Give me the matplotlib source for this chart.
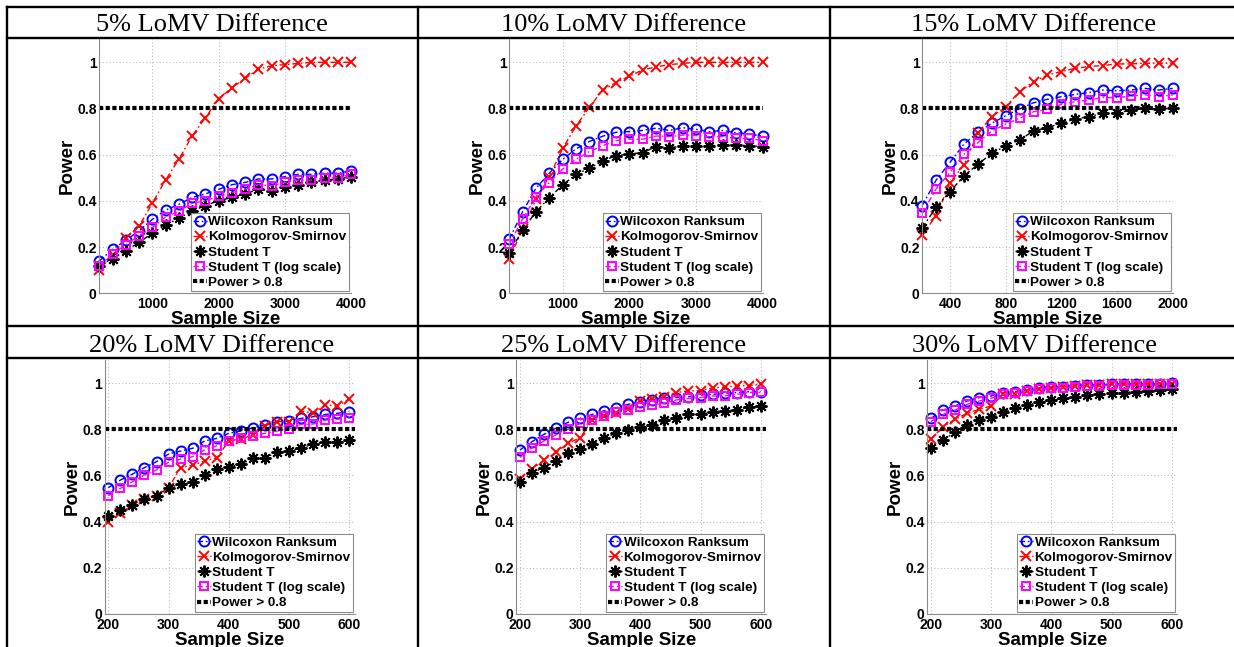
import matplotlib
matplotlib.use("Agg")
import matplotlib.pyplot as plt
from matplotlib.lines import Line2D

# ---------------- data ----------------
titles = ["5% LoMV Difference", "10% LoMV Difference", "15% LoMV Difference",
          "20% LoMV Difference", "25% LoMV Difference", "30% LoMV Difference"]
series_names = ["Wilcoxon Ranksum", "Kolmogorov-Smirnov", "Student T",
                "Student T (log scale)", "Power > 0.8"]
power_threshold = 0.8

x_4000 = list(range(200, 4001, 200))
x_2000 = list(range(200, 2001, 100))
x_600 = list(range(200, 601, 20))

# 5%
wil_05 = [0.14, 0.19, 0.23, 0.27, 0.32, 0.36, 0.385, 0.415, 0.43, 0.45,
          0.47, 0.48, 0.495, 0.495, 0.505, 0.515, 0.515, 0.52, 0.52, 0.53]
ks_05 = [0.10, 0.166, 0.24, 0.29, 0.39, 0.49, 0.58, 0.68, 0.76, 0.84,
         0.89, 0.93, 0.97, 0.985, 0.99, 0.995, 1.0, 1.0, 1.0, 1.0]
t_05 = [0.12, 0.15, 0.185, 0.22, 0.26, 0.295, 0.325, 0.355, 0.38, 0.40,
        0.415, 0.43, 0.45, 0.445, 0.46, 0.47, 0.48, 0.49, 0.495, 0.505]
logt_05 = [0.12, 0.17, 0.21, 0.25, 0.285, 0.33, 0.355, 0.39, 0.40, 0.42,
           0.435, 0.45, 0.47, 0.465, 0.48, 0.49, 0.49, 0.50, 0.50, 0.515]

# 10%
wil_10 = [0.234, 0.353, 0.455, 0.52, 0.58, 0.625, 0.657, 0.68, 0.697, 0.70,
          0.705, 0.715, 0.705, 0.717, 0.71, 0.70, 0.705, 0.695, 0.69, 0.68]
ks_10 = [0.15, 0.277, 0.407, 0.505, 0.627, 0.724, 0.805, 0.88, 0.912, 0.94,
         0.967, 0.98, 0.99, 0.995, 1.0, 1.0, 1.0, 1.0, 1.0, 1.0]
t_10 = [0.176, 0.274, 0.353, 0.414, 0.469, 0.515, 0.541, 0.573, 0.596, 0.603,
        0.609, 0.635, 0.63, 0.638, 0.639, 0.639, 0.642, 0.642, 0.639, 0.635]
logt_10 = [0.212, 0.322, 0.418, 0.479, 0.538, 0.58, 0.613, 0.639, 0.661, 0.667,
           0.667, 0.681, 0.678, 0.685, 0.683, 0.678, 0.678, 0.671, 0.671, 0.661]

# 15%
wil_15 = [0.38, 0.49, 0.567, 0.646, 0.697, 0.736, 0.769, 0.798, 0.825, 0.84,
          0.851, 0.861, 0.869, 0.88, 0.877, 0.88, 0.887, 0.88, 0.887]
ks_15 = [0.253, 0.335, 0.479, 0.556, 0.693, 0.765, 0.808, 0.873, 0.916, 0.945,
         0.96, 0.974, 0.982, 0.986, 0.993, 0.993, 0.996, 0.996, 0.996]
t_15 = [0.284, 0.372, 0.44, 0.508, 0.558, 0.606, 0.638, 0.664, 0.703, 0.717,
        0.736, 0.755, 0.765, 0.779, 0.779, 0.794, 0.801, 0.798, 0.801]
logt_15 = [0.346, 0.452, 0.524, 0.602, 0.652, 0.703, 0.732, 0.758, 0.786, 0.797,
           0.818, 0.83, 0.837, 0.847, 0.847, 0.854, 0.859, 0.851, 0.859]

# 20%
wil_20 = [0.547, 0.58, 0.606, 0.634, 0.66, 0.693, 0.706, 0.718, 0.75, 0.761, 0.783,
          0.793, 0.807, 0.819, 0.834, 0.836, 0.848, 0.855, 0.865, 0.87, 0.877]
ks_20 = [0.40, 0.436, 0.472, 0.50, 0.512, 0.547, 0.634, 0.645, 0.663, 0.677, 0.75,
         0.758, 0.776, 0.816, 0.834, 0.834, 0.88, 0.87, 0.906, 0.902, 0.932]
t_20 = [0.425, 0.45, 0.472, 0.50, 0.512, 0.547, 0.561, 0.57, 0.602, 0.627, 0.638,
        0.648, 0.674, 0.677, 0.70, 0.706, 0.72, 0.735, 0.747, 0.744, 0.754]
logt_20 = [0.512, 0.544, 0.573, 0.602, 0.624, 0.657, 0.671, 0.682, 0.711, 0.729, 0.75,
           0.761, 0.773, 0.783, 0.793, 0.802, 0.822, 0.823, 0.841, 0.844, 0.851]

# 25%
wil_25 = [0.711, 0.747, 0.779, 0.805, 0.831, 0.848, 0.865, 0.881, 0.894, 0.909, 0.92,
          0.928, 0.938, 0.938, 0.942, 0.949, 0.952, 0.957, 0.96, 0.964, 0.964]
ks_25 = [0.585, 0.628, 0.667, 0.70, 0.74, 0.764, 0.841, 0.86, 0.87, 0.888, 0.923,
         0.932, 0.942, 0.96, 0.967, 0.968, 0.981, 0.983, 0.99, 0.99, 0.996]
t_25 = [0.573, 0.612, 0.634, 0.663, 0.696, 0.715, 0.735, 0.764, 0.783, 0.797, 0.812,
        0.819, 0.841, 0.851, 0.865, 0.865, 0.877, 0.881, 0.884, 0.899, 0.903]
logt_25 = [0.679, 0.721, 0.75, 0.776, 0.80, 0.826, 0.841, 0.86, 0.874, 0.884, 0.899,
           0.906, 0.913, 0.928, 0.935, 0.938, 0.945, 0.946, 0.952, 0.96, 0.961]

# 30%
wil_30 = [0.848, 0.884, 0.902, 0.923, 0.938, 0.945, 0.96, 0.964, 0.971, 0.981, 0.986,
          0.986, 0.99, 0.993, 0.993, 0.996, 0.997, 0.997, 0.997, 0.998, 1.0]
ks_30 = [0.758, 0.812, 0.844, 0.87, 0.887, 0.902, 0.952, 0.952, 0.968, 0.975, 0.981,
         0.986, 0.988, 0.993, 0.993, 0.996, 0.996, 0.997, 0.997, 0.997, 0.998]
t_30 = [0.721, 0.754, 0.787, 0.819, 0.841, 0.855, 0.874, 0.891, 0.906, 0.917, 0.928,
        0.935, 0.942, 0.949, 0.952, 0.957, 0.96, 0.964, 0.967, 0.971, 0.974]
logt_30 = [0.834, 0.865, 0.884, 0.909, 0.923, 0.935, 0.952, 0.957, 0.968, 0.975, 0.978,
           0.981, 0.986, 0.988, 0.99, 0.993, 0.993, 0.993, 0.993, 0.996, 0.996]

xticks_4000 = [1000, 2000, 3000, 4000]
xticks_2000 = [400, 800, 1200, 1600, 2000]
xticks_600 = [200, 300, 400, 500, 600]
yticks = [0, 0.2, 0.4, 0.6, 0.8, 1.0]
ytick_labels = ["0", "0.2", "0.4", "0.6", "0.8", "1"]

panels = [
    (x_4000, wil_05, ks_05, t_05, logt_05, xticks_4000, (200, 4000)),
    (x_4000, wil_10, ks_10, t_10, logt_10, xticks_4000, (200, 4000)),
    (x_2000, wil_15, ks_15, t_15, logt_15, xticks_2000, (200, 2000)),
    (x_600, wil_20, ks_20, t_20, logt_20, xticks_600, (194, 609)),
    (x_600, wil_25, ks_25, t_25, logt_25, xticks_600, (194, 609)),
    (x_600, wil_30, ks_30, t_30, logt_30, xticks_600, (194, 609)),
]

# ---------------- layout (pixels) ----------------
W, H = 1234, 647
fig = plt.figure(figsize=(W / 100, H / 100), dpi=100)
fig.patch.set_facecolor("white")

# (left, right, top, bottom) in px
rects = [
    (99.3, 351.0, 39.2, 293.3),
    (509.3, 762.7, 39.2, 293.3),
    (922.2, 1172.7, 39.2, 293.3),
    (104.7, 354.7, 360.3, 613.7),
    (516.4, 766.1, 360.3, 613.7),
    (927.4, 1177.1, 360.3, 613.7),
]
title_pos = [(212, 31), (623.5, 31), (1034, 31),
             (212, 351.5), (623.5, 351.5), (1034, 351.5)]

sans = "Liberation Sans"
serif = "Liberation Serif"
dash_dot = (0, (4, 2, 1.2, 2))
ast = (8, 2, 0)

for i, (xs, w, k, t, lt, xt, xl) in enumerate(panels):
    l, r, tp, b = rects[i]
    ax = fig.add_axes([l / W, 1 - b / H, (r - l) / W, (b - tp) / H])
    ax.set_facecolor("white")
    ax.plot(xs, w, linestyle=dash_dot, color="#0000ff", lw=1.0, marker="o",
            ms=7.2, mfc="none", mec="#0000ff", mew=1.4, clip_on=False,
            label=series_names[0])
    ax.plot(xs, k, linestyle=dash_dot, color="#ff0000", lw=1.0, marker="x",
            ms=6.5, mec="#ff0000", mew=1.4, clip_on=False, label=series_names[1])
    ax.plot(xs, t, linestyle=dash_dot, color="black", lw=1.0, marker=ast,
            ms=8.5, mec="black", mew=1.4, clip_on=False, label=series_names[2])
    ax.plot(xs, lt, linestyle=dash_dot, color="#ff00ff", lw=1.0, marker="s",
            ms=6.2, mfc="none", mec="#ff00ff", mew=1.4, clip_on=False,
            label=series_names[3])
    ax.axhline(power_threshold, color="black", lw=3, linestyle=(0, (1.0, 0.6)),
               label=series_names[4])

    ax.set_xlim(*xl)
    ax.set_ylim(0, 1.1)
    ax.set_xticks(xt)
    ax.set_xticklabels([str(v) for v in xt])
    ax.set_yticks(yticks)
    ax.set_yticklabels(ytick_labels)
    ax.grid(True, linestyle=(0, (1, 2)), color="#bdbdbd", lw=0.8)
    ax.set_axisbelow(True)
    for s in ["top", "right"]:
        ax.spines[s].set_visible(False)
    for s in ["left", "bottom"]:
        ax.spines[s].set_color("#8c8c8c")
        ax.spines[s].set_linewidth(0.8)
    ax.tick_params(axis="both", length=0, labelsize=10)
    ax.tick_params(axis="y", pad=2)
    ax.tick_params(axis="x", pad=3)
    for lab in ax.get_xticklabels() + ax.get_yticklabels():
        lab.set_fontfamily(sans)
        lab.set_fontweight("bold")
    ax.set_xlabel("Sample Size", fontsize=13.5, fontweight="bold",
                  fontfamily=sans, labelpad=0)
    ax.set_ylabel("Power", fontsize=13.5, fontweight="bold",
                  fontfamily=sans, labelpad=1)
    leg = ax.legend(loc="lower right", bbox_to_anchor=(1.0, 0.0),
                    prop={"family": sans, "weight": "bold", "size": 9.7},
                    numpoints=1, handlelength=1.0, handletextpad=0.12,
                    labelspacing=0.2, borderpad=0.18, borderaxespad=0.15,
                    fancybox=False, framealpha=1.0, edgecolor="#8c8c8c")
    leg.get_frame().set_linewidth(0.8)

    cx, cy = title_pos[i]
    fig.text(cx / W, 1 - cy / H, titles[i], ha="center", va="baseline",
             fontsize=19, fontfamily=serif)

# table lines
def hline(y, x0=7, x1=W):
    fig.add_artist(Line2D([x0 / W, x1 / W], [1 - y / H, 1 - y / H],
                          transform=fig.transFigure, color="black", lw=1.7,
                          zorder=100))

def vline(x, y0=7, y1=H):
    fig.add_artist(Line2D([x / W, x / W], [1 - y0 / H, 1 - y1 / H],
                          transform=fig.transFigure, color="black", lw=1.7,
                          zorder=100))

for y in [7, 38, 326, 358]:
    hline(y)
for x in [7, 418, 830]:
    vline(x)

fig.savefig("out.png", dpi=100, facecolor="white")
